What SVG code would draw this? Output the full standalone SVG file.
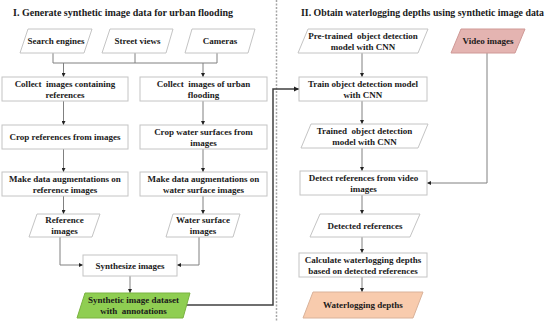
<svg xmlns="http://www.w3.org/2000/svg" width="550" height="322" viewBox="0 0 550 322">
<defs>
<marker id="ah" viewBox="0 0 6 6" refX="6" refY="3" markerWidth="4" markerHeight="4" orient="auto"><path d="M0,0 L6,3 L0,6 z" fill="#222"/></marker>
<marker id="ah2" viewBox="0 0 6 6" refX="6" refY="3" markerWidth="3.5" markerHeight="3.5" orient="auto"><path d="M0,0 L6,3 L0,6 z" fill="#222"/></marker>
</defs>
<style>
text{font-family:"Liberation Serif","Times New Roman",serif;font-weight:bold;fill:#1a1a1a;white-space:pre}
.t{font-size:10px}
.n{font-size:9px;text-anchor:middle}
.box{fill:#fff;stroke:#c4c4c4;stroke-width:1}
.c{fill:none;stroke:#808080;stroke-width:1}
.ca{fill:none;stroke:#808080;stroke-width:1;marker-end:url(#ah)}
.cd{fill:none;stroke:#404040;stroke-width:1.5;marker-end:url(#ah2)}
</style>
<rect width="550" height="322" fill="#fff"/>
<line x1="276.5" y1="0" x2="276.5" y2="322" stroke="#a6a6a6" stroke-width="1.5" stroke-dasharray="2,1.5"/>
<text class="t" x="13" y="16" textLength="220" lengthAdjust="spacingAndGlyphs">I. Generate synthetic image data for urban flooding</text>
<text class="t" x="301" y="16" textLength="243" lengthAdjust="spacingAndGlyphs">II. Obtain waterlogging depths using synthetic image data</text>

<g id="connectors">
<path class="c" d="M53,53 V63 M135,53 V63 M217,53 V63 M53,63 H217"/>
<path class="ca" d="M63.5,63 V77"/>
<path class="ca" d="M203,63 V77"/>
<path class="ca" d="M63.5,101 V125"/>
<path class="ca" d="M63.5,149 V172"/>
<path class="ca" d="M63.5,196 V214"/>
<path class="ca" d="M203,101 V125"/>
<path class="ca" d="M203,149 V172"/>
<path class="ca" d="M203,196 V214"/>
<path class="ca" d="M60,237 V265 H83"/>
<path class="ca" d="M199,237 V265 H177"/>
<path class="ca" d="M130,276 V293"/>
<path class="cd" d="M186,305 H273 V89 H299"/>
<path class="ca" d="M362,53 V77"/>
<path class="ca" d="M362,101 V124"/>
<path class="ca" d="M362,148 V171"/>
<path class="ca" d="M362,195 V214"/>
<path class="ca" d="M362,237 V253"/>
<path class="ca" d="M362,277 V292"/>
<path class="ca" d="M487,53 V183 H427"/>
</g>

<g id="search-engines"><polygon class="box" points="28,29 92,29 84,53 20,53"/><text class="n" x="56" y="44">Search engines</text></g>
<g id="street-views"><polygon class="box" points="110,29 173,29 166,53 102,53"/><text class="n" x="137.5" y="44">Street views</text></g>
<g id="cameras"><polygon class="box" points="192,29 255,29 248,53 185,53"/><text class="n" x="220" y="44">Cameras</text></g>

<g id="collect-ref"><rect class="box" x="2" y="77" width="126" height="24"/><text class="n" x="65" y="86.5">Collect  images containing</text><text class="n" x="65" y="97.5">references</text></g>
<g id="crop-ref"><rect class="box" x="2" y="125" width="126" height="24"/><text class="n" x="65" y="140">Crop references from images</text></g>
<g id="aug-ref"><rect class="box" x="2" y="172" width="126" height="24"/><text class="n" x="65" y="181.5">Make data augmentations on</text><text class="n" x="65" y="192.5">reference images</text></g>
<g id="ref-images"><polygon class="box" points="37,214 100,214 92,237 29,237"/><text class="n" x="64.5" y="223">Reference</text><text class="n" x="64.5" y="234">images</text></g>

<g id="collect-flood"><rect class="box" x="140" y="77" width="127" height="24"/><text class="n" x="203.5" y="86.5">Collect  images of urban</text><text class="n" x="203.5" y="97.5">flooding</text></g>
<g id="crop-water"><rect class="box" x="140" y="125" width="127" height="24"/><text class="n" x="203.5" y="134.5">Crop water surfaces from</text><text class="n" x="203.5" y="145.5">images</text></g>
<g id="aug-water"><rect class="box" x="140" y="172" width="127" height="24"/><text class="n" x="203.5" y="181.5">Make data augmentations on</text><text class="n" x="203.5" y="192.5">water surface images</text></g>
<g id="water-images"><polygon class="box" points="173,214 240,214 233,237 166,237"/><text class="n" x="203" y="223">Water surface</text><text class="n" x="203" y="234">images</text></g>

<g id="synthesize"><rect class="box" x="83" y="255" width="94" height="21"/><text class="n" x="130" y="268.5">Synthesize images</text></g>
<g id="synthetic-dataset"><polygon points="85,293 190,293 183,318 77,318" fill="#8fce52" stroke="#7ab340" stroke-width="1"/><text class="n" x="133.5" y="303">Synthetic image dataset</text><text class="n" x="133.5" y="314">with  annotations</text></g>

<g id="pretrained"><polygon class="box" points="308,29 428,29 418,53 298,53"/><text class="n" x="363" y="38.5">Pre-trained  object detection</text><text class="n" x="363" y="49.5">model with CNN</text></g>
<g id="video-images"><polygon points="461,29 525,29 515,53 451,53" fill="#e4b4b1" stroke="#cf9996" stroke-width="1"/><text class="n" x="488" y="44">Video images</text></g>
<g id="train"><rect class="box" x="299" y="77" width="128" height="24"/><text class="n" x="363" y="86.5">Train object detection model</text><text class="n" x="363" y="97.5">with CNN</text></g>
<g id="trained"><polygon class="box" points="311,124 428,124 418,148 301,148"/><text class="n" x="364.5" y="133.5">Trained  object detection</text><text class="n" x="364.5" y="144.5">model with CNN</text></g>
<g id="detect"><rect class="box" x="300" y="171" width="127" height="24"/><text class="n" x="363.5" y="180.5">Detect references from video</text><text class="n" x="363.5" y="191.5">images</text></g>
<g id="detected"><polygon class="box" points="320,214 420,214 410,237 310,237"/><text class="n" x="365" y="228.5">Detected references</text></g>
<g id="calculate"><rect class="box" x="299" y="253" width="128" height="24"/><text class="n" x="363" y="262.5">Calculate waterlogging depths</text><text class="n" x="363" y="273.5">based on detected references</text></g>
<g id="waterlogging"><polygon points="313,292 423,292 413,318 303,318" fill="#f8cbad" stroke="#d9b29a" stroke-width="1"/><text class="n" x="363" y="308">Waterlogging depths</text></g>
</svg>
